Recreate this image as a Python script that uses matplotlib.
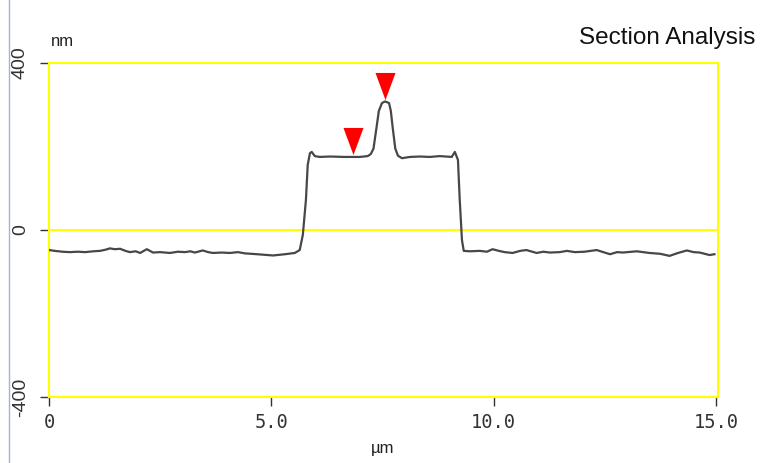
import matplotlib
matplotlib.use("Agg")
import matplotlib.pyplot as plt
from matplotlib.lines import Line2D

# Section profile (x in µm, height in nm)
x_um = [0.00, 0.13, 0.30, 0.47, 0.65, 0.81, 1.00, 1.15, 1.28, 1.37, 1.48, 1.60,
        1.72, 1.82, 1.95, 2.05, 2.20, 2.34, 2.50, 2.72, 2.90,
        3.06, 3.18, 3.28, 3.46, 3.58, 3.69, 3.88, 4.07, 4.25, 4.41, 4.68, 5.04,
        5.31, 5.53, 5.64, 5.71, 5.78, 5.82, 5.87, 5.91, 5.98, 6.09, 6.32, 6.65,
        6.99, 7.17, 7.24, 7.30, 7.37, 7.42, 7.49, 7.56, 7.65, 7.69, 7.73, 7.79,
        7.85, 7.94, 8.12, 8.34, 8.57, 8.79, 9.06, 9.13, 9.20, 9.24, 9.29, 9.33,
        9.47, 9.69, 9.85, 9.98, 10.12, 10.25, 10.43, 10.60, 10.74, 10.97, 11.12,
        11.27, 11.49, 11.65, 11.83, 12.05, 12.32, 12.62, 12.78, 12.91, 13.22,
        13.51, 13.75, 13.96, 14.15, 14.35, 14.50, 14.64, 14.86, 14.97]
z_nm = [-48, -50, -52, -53, -52, -53, -51, -50, -47, -44, -46, -45,
        -50, -53, -51, -55, -46, -54, -53, -55, -52,
        -53, -51, -54, -49, -53, -55, -54, -55, -53, -56, -58, -61,
        -58, -55, -48, -12, 72, 156, 184, 187, 177, 175, 176, 175,
        175, 177, 182, 195, 247, 285, 304, 308, 304, 285, 247, 195,
        178, 172, 175, 176, 175, 177, 175, 187, 168, 72, -24, -50,
        -51, -50, -52, -46, -50, -53, -55, -50, -48, -55, -52,
        -54, -53, -50, -53, -52, -48, -58, -53, -54, -51,
        -55, -57, -62, -55, -49, -53, -54, -60, -58]

# Cursor markers
marker_x = [6.84, 7.56]
marker_z = [213, 345]

xticks = [0, 5.0, 10.0, 15.0]
xtick_labels = ["0", "5.0", "10.0", "15.0"]
yticks = [-400, 0, 400]
ytick_labels = ["-400", "0", "400"]

fig = plt.figure(figsize=(7.61, 4.63), dpi=100)
fig.patch.set_facecolor("white")
ax = fig.add_axes([49 / 761, 1 - 397 / 463, 669 / 761, 334 / 463])

yellow = "#ffff00"
for s in ax.spines.values():
    s.set_color(yellow)
    s.set_linewidth(1.5)

ax.axhline(0, color=yellow, lw=1.5, zorder=1)
ax.plot(x_um, z_nm, color="#474747", lw=1.6, zorder=3)

tri = [(-0.37, 0.5), (0.37, 0.5), (0.0, -0.5)]
ax.plot(marker_x, marker_z, linestyle="none", marker=tri, markersize=19.5,
        color="#ff0000", markeredgewidth=0, zorder=4)

ax.set_xlim(0, 15.05)
ax.set_ylim(-400, 400)

ax.set_xticks(xticks)
ax.set_xticklabels(xtick_labels, family="DejaVu Sans Mono", fontsize=13.5,
                   color="#333333")
ax.set_yticks(yticks)
ax.set_yticklabels(ytick_labels, family="Liberation Sans", fontsize=14,
                   rotation=90, va="center", color="#333333")
ax.tick_params(axis="both", direction="out", length=6.5, width=1.0,
               color="#333333")
ax.tick_params(axis="x", pad=5)
ax.tick_params(axis="y", pad=8)

fig.text(62 / 761, 1 - 41 / 463, "nm", family="Liberation Sans", fontsize=12,
         ha="center", va="center", color="#222222")
fig.text(383 / 761, 1 - 448 / 463, "µm", family="Liberation Sans", fontsize=12,
         ha="center", va="center", color="#222222")
fig.text(755 / 761, 1 - 38 / 463, "Section Analysis", family="Liberation Sans",
         fontsize=17.5, ha="right", va="center", color="#111111")

fig.add_artist(Line2D([8.5 / 761, 8.5 / 761], [0, 1], transform=fig.transFigure,
                      color="#9db5dc", lw=1.0))

fig.savefig("out.png", dpi=100, facecolor="white")
